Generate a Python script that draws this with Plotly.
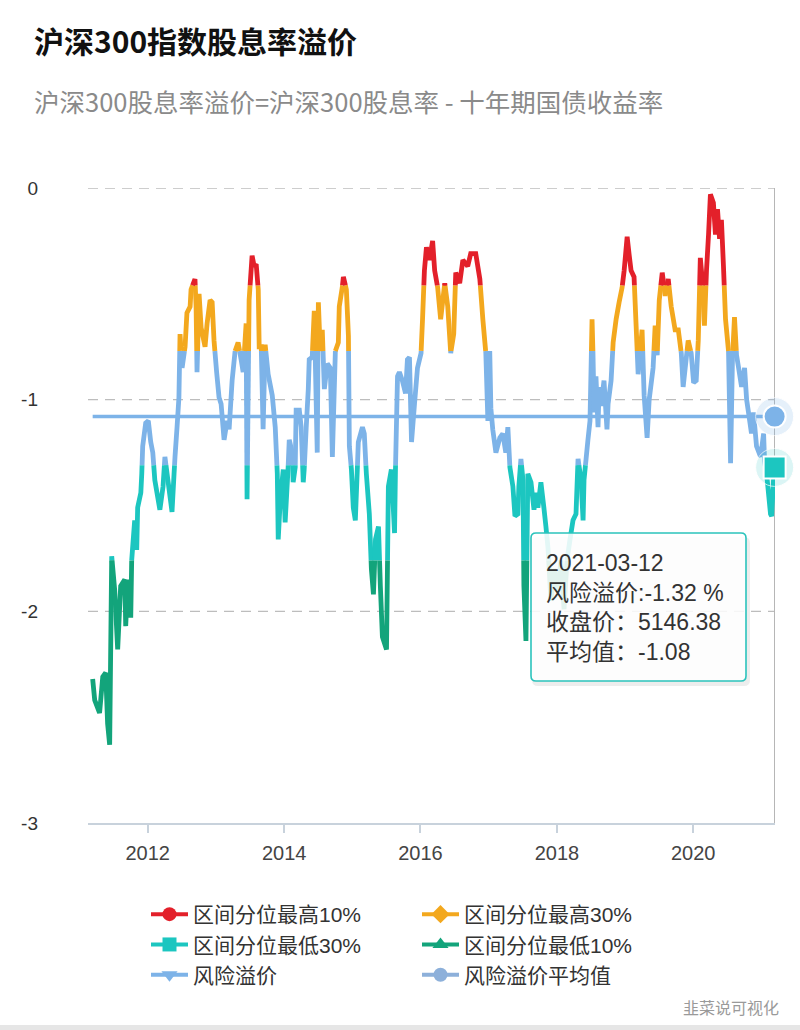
import plotly.graph_objects as go
import pandas as pd

# ---------------- data ----------------
TITLE = "沪深300指数股息率溢价"
SUBTITLE = "沪深300股息率溢价=沪深300股息率 - 十年期国债收益率"
WATERMARK = "韭菜说可视化"

dates = [
    "2011-03-12", "2011-03-23", "2011-04-18", "2011-05-05", "2011-05-21", "2011-05-31", "2011-06-11",
    "2011-06-22", "2011-07-08", "2011-07-24", "2011-08-09", "2011-08-31", "2011-09-05", "2011-09-16",
    "2011-10-02", "2011-10-07", "2011-10-23", "2011-11-03", "2011-11-08", "2011-11-25", "2011-11-30",
    "2011-12-05", "2011-12-21",
    "2012-01-04", "2012-01-17", "2012-01-28", "2012-02-08", "2012-03-06", "2012-03-23", "2012-04-02",
    "2012-04-18", "2012-05-10", "2012-05-21", "2012-05-26", "2012-06-06", "2012-06-16", "2012-06-22",
    "2012-07-03", "2012-07-19", "2012-07-29", "2012-08-15", "2012-08-20", "2012-09-10", "2012-09-16",
    "2012-09-21", "2012-10-02", "2012-10-13", "2012-11-03", "2012-11-14", "2012-11-30", "2012-12-11",
    "2012-12-21",
    "2013-01-04", "2013-01-17", "2013-01-28", "2013-02-13", "2013-03-01", "2013-03-12", "2013-03-28",
    "2013-04-13", "2013-04-29", "2013-05-15", "2013-05-26", "2013-06-11", "2013-06-16", "2013-06-27",
    "2013-07-13", "2013-07-24", "2013-08-04", "2013-08-15", "2013-08-20", "2013-08-31", "2013-09-10",
    "2013-09-21", "2013-10-07", "2013-10-29", "2013-11-14", "2013-11-25", "2013-11-30", "2013-12-11",
    "2013-12-27",
    "2014-01-06", "2014-01-22", "2014-01-28", "2014-02-13", "2014-02-18", "2014-03-01", "2014-03-06",
    "2014-03-23", "2014-04-02", "2014-04-13", "2014-04-18", "2014-04-29", "2014-05-10", "2014-05-15",
    "2014-05-31", "2014-06-11", "2014-06-27", "2014-07-03", "2014-07-13", "2014-07-24", "2014-08-04",
    "2014-08-20", "2014-09-05", "2014-09-16", "2014-10-02", "2014-10-18", "2014-10-23", "2014-11-08",
    "2014-11-14", "2014-11-30", "2014-12-11", "2014-12-16", "2014-12-27",
    "2015-01-06", "2015-01-17", "2015-01-28", "2015-02-02", "2015-02-24", "2015-03-06", "2015-03-17",
    "2015-04-02", "2015-04-13", "2015-04-24", "2015-05-05", "2015-05-21", "2015-05-31", "2015-06-11",
    "2015-07-03", "2015-07-13", "2015-07-29", "2015-08-15", "2015-08-20", "2015-08-31", "2015-09-10",
    "2015-09-26", "2015-10-13", "2015-10-23", "2015-11-03", "2015-11-14", "2015-11-30", "2015-12-16",
    "2016-01-04", "2016-01-12", "2016-01-22", "2016-02-02", "2016-02-18", "2016-03-06", "2016-03-17",
    "2016-04-02", "2016-04-18", "2016-05-10", "2016-05-26", "2016-06-11", "2016-06-27", "2016-07-08",
    "2016-07-29", "2016-08-15", "2016-09-10", "2016-09-26", "2016-10-23", "2016-11-14", "2016-11-30",
    "2016-12-16", "2016-12-27",
    "2017-01-06", "2017-01-12", "2017-01-22", "2017-02-08", "2017-03-01", "2017-03-17", "2017-04-02",
    "2017-04-13", "2017-04-24", "2017-05-10", "2017-05-21", "2017-06-06", "2017-06-11", "2017-06-22",
    "2017-07-03", "2017-07-08", "2017-07-19", "2017-07-29", "2017-08-15", "2017-08-31", "2017-09-10",
    "2017-09-21", "2017-10-07", "2017-10-23", "2017-11-03", "2017-11-14", "2017-11-30", "2017-12-16",
    "2018-01-06", "2018-01-22", "2018-02-08", "2018-02-24", "2018-03-12", "2018-03-28", "2018-04-13",
    "2018-04-24", "2018-05-10", "2018-05-21", "2018-05-26", "2018-06-06", "2018-06-16", "2018-06-27",
    "2018-07-08", "2018-07-13", "2018-07-19", "2018-07-29", "2018-08-09", "2018-08-15", "2018-08-25",
    "2018-09-10", "2018-09-26", "2018-10-02", "2018-10-18", "2018-10-29", "2018-11-14", "2018-11-30",
    "2018-12-16", "2018-12-27",
    "2019-01-12", "2019-01-22", "2019-02-02", "2019-02-18", "2019-03-01", "2019-03-12", "2019-04-02",
    "2019-04-13", "2019-04-29", "2019-05-10", "2019-05-31", "2019-06-11", "2019-06-22", "2019-07-03",
    "2019-07-19", "2019-08-04", "2019-08-20", "2019-09-05", "2019-09-26", "2019-10-13", "2019-10-29",
    "2019-11-08", "2019-11-19", "2019-12-05", "2019-12-21",
    "2020-01-03", "2020-01-17", "2020-01-28", "2020-02-08", "2020-02-18", "2020-03-01", "2020-03-12",
    "2020-03-23", "2020-04-02", "2020-04-18", "2020-04-29", "2020-05-10", "2020-05-21", "2020-05-31",
    "2020-06-11", "2020-06-22", "2020-07-08", "2020-07-19", "2020-07-29", "2020-08-09", "2020-08-20",
    "2020-08-31", "2020-09-16", "2020-10-02", "2020-10-13", "2020-10-23", "2020-11-08", "2020-11-19",
    "2020-12-05", "2020-12-27",
    "2021-01-12", "2021-01-17", "2021-01-28", "2021-02-18", "2021-02-24", "2021-03-06", "2021-03-12",
]

premium = [
    -2.32, -2.42, -2.48, -2.31, -2.29, -2.53, -2.63,
    -1.74, -1.90, -2.18, -1.88, -1.85, -2.07, -1.85,
    -2.03, -1.76, -1.57, -1.71, -1.51, -1.44, -1.35,
    -1.22, -1.11,
    -1.10, -1.20, -1.25, -1.38, -1.52, -1.41, -1.27,
    -1.38, -1.53, -1.35, -1.27, -1.13, -0.99, -0.69,
    -0.85, -0.75, -0.59, -0.56, -0.48, -0.43, -0.56,
    -0.87, -0.50, -0.66, -0.75, -0.64, -0.53, -0.54,
    -0.72,
    -0.87, -0.99, -1.02, -1.19, -1.10, -1.14, -0.91,
    -0.77, -0.73, -0.81, -0.87, -0.64, -1.47, -0.53,
    -0.32, -0.37, -0.36, -0.48, -0.75, -0.75, -1.14,
    -0.74, -0.88, -0.98, -1.13, -1.35, -1.66, -1.47,
    -1.33,
    -1.58, -1.32, -1.19, -1.25, -1.39, -1.32, -1.05,
    -1.05, -1.13, -1.39, -1.33, -1.13, -0.95, -0.81,
    -0.80, -0.58, -1.25, -0.54, -0.77, -0.67, -0.95,
    -0.83, -0.85, -1.27, -0.77, -0.73, -0.56, -0.47,
    -0.42, -0.48, -0.70, -1.22, -1.33,
    -1.51, -1.57, -1.32, -1.20, -1.13, -1.16, -1.35,
    -1.54, -1.80, -1.92, -1.66, -1.60, -1.88, -2.12,
    -2.18, -1.41, -1.33, -1.63, -1.33, -0.89, -0.87,
    -0.91, -0.97, -0.81, -0.80, -1.20, -1.02, -0.85,
    -0.78, -0.62, -0.39, -0.28, -0.34, -0.25, -0.39,
    -0.47, -0.62, -0.45, -0.56, -0.78, -0.69, -0.40,
    -0.45, -0.34, -0.37, -0.31, -0.31, -0.43, -0.62,
    -0.78, -1.10,
    -0.77, -1.04, -1.14, -1.25, -1.18, -1.16, -1.25,
    -1.13, -1.32, -1.41, -1.55, -1.54, -1.41, -1.28,
    -1.38, -1.88, -2.14, -1.35, -1.39, -1.52, -1.44,
    -1.51, -1.39, -1.51, -1.60, -1.70, -1.95, -1.80,
    -1.90, -1.76, -1.99, -1.76, -1.66, -1.57, -1.54,
    -1.28, -1.38, -1.57, -1.38, -1.28, -1.19, -1.10,
    -0.62, -0.78, -1.06, -0.89, -1.13, -0.94, -1.03,
    -0.91, -1.14, -1.02, -0.91, -0.73, -0.62, -0.54,
    -0.47, -0.39,
    -0.23, -0.31, -0.39, -0.42, -0.65, -0.88, -0.67,
    -0.98, -1.18, -1.00, -0.85, -0.65, -0.79, -0.53,
    -0.40, -0.51, -0.43, -0.56, -0.67, -0.67, -0.78,
    -0.94, -0.85, -0.72, -0.78,
    -0.92, -0.91, -0.72, -0.33, -0.43, -0.65, -0.39,
    -0.22, -0.03, -0.07, -0.22, -0.10, -0.24, -0.15,
    -0.37, -0.62, -0.77, -1.30, -0.81, -0.61, -0.79,
    -0.85, -0.94, -0.85, -1.00, -1.06, -1.16, -1.06,
    -1.22, -1.27,
    -1.16, -1.29, -1.35, -1.54, -1.55, -1.38, -1.32,
]

MEAN_PREMIUM = -1.08
TIP_DATE = "2021-03-12"
TIP_PREMIUM = -1.32
TIP_CLOSE = 5146.38

# band edges (percentile thresholds of the premium) and band names, low -> high
BAND_EDGES = [-1.76, -1.31, -0.77, -0.46]
BAND_NAMES = ["区间分位最低10%", "区间分位最低30%", "风险溢价", "区间分位最高30%", "区间分位最高10%"]
MEAN_NAME = "风险溢价平均值"

Y_TICKS = [0, -1, -2, -3]
X_TICKS = ["2012-01-01", "2014-01-01", "2016-01-01", "2018-01-01", "2020-01-01"]
X_TICK_LABELS = ["2012", "2014", "2016", "2018", "2020"]

# ---------------- styles ----------------
BAND_COLORS = ["#13A47B", "#1CC6C0", "#7DB3E8", "#F3A81E", "#E3202A"]
BAND_SYMBOLS = ["triangle-up", "square", "triangle-down", "diamond", "circle"]
MEAN_COLOR = "#7DB3E8"
MEAN_LEGEND_COLOR = "#8DB0DA"
FONT = "Noto Sans CJK SC, Noto Sans, sans-serif"
FONT_MIX = "Liberation Sans, Noto Sans CJK SC, sans-serif"

W, H = 800, 1030
L, R, T, B = 88, 25, 188, 207
PW, PH = W - L - R, H - T - B


def px(x):
    return (x - L) / PW


def py(y):
    return (H - B - y) / PH


# ---------------- split series into value bands ----------------
ts = pd.to_datetime(dates)


def band_of(v):
    for i, e in enumerate(BAND_EDGES):
        if v < e:
            return i
    return len(BAND_EDGES)


seg = {i: ([], []) for i in range(len(BAND_NAMES))}
for i in range(len(premium) - 1):
    t0, t1 = ts[i], ts[i + 1]
    v0, v1 = premium[i], premium[i + 1]
    cuts = [0.0, 1.0]
    lo, hi = min(v0, v1), max(v0, v1)
    for e in BAND_EDGES:
        if lo < e < hi:
            cuts.append((e - v0) / (v1 - v0))
    cuts.sort()
    for a, b in zip(cuts[:-1], cuts[1:]):
        va, vb = v0 + (v1 - v0) * a, v0 + (v1 - v0) * b
        k = band_of((va + vb) / 2)
        xa = (t0 + (t1 - t0) * a).strftime("%Y-%m-%d %H:%M:%S")
        xb = (t0 + (t1 - t0) * b).strftime("%Y-%m-%d %H:%M:%S")
        xs, ys = seg[k]
        if not (xs and xs[-1] == xa and abs(ys[-1] - va) < 1e-9):
            if xs:
                xs.append(None)
                ys.append(None)
            xs.append(xa)
            ys.append(va)
        xs.append(xb)
        ys.append(vb)

fig = go.Figure()

# mean line
fig.add_trace(go.Scatter(
    x=[dates[0], dates[-1]], y=[MEAN_PREMIUM, MEAN_PREMIUM], mode="lines",
    line=dict(color=MEAN_COLOR, width=3.5), showlegend=False, hoverinfo="skip"))

draw_order = [2, 3, 4, 1, 0]
for k in draw_order:
    xs, ys = seg[k]
    fig.add_trace(go.Scatter(
        x=xs, y=ys, mode="lines", connectgaps=False,
        line=dict(color=BAND_COLORS[k], width=4.8, shape="linear", simplify=False),
        showlegend=False, hoverinfo="skip"))

# legend entries
legend_order = [4, 3, 1, 0, 2]
for k in legend_order:
    fig.add_trace(go.Scatter(
        x=[None], y=[None], mode="lines+markers", name=BAND_NAMES[k],
        line=dict(color=BAND_COLORS[k], width=4),
        marker=dict(symbol=BAND_SYMBOLS[k], size=14, color=BAND_COLORS[k])))
fig.add_trace(go.Scatter(
    x=[None], y=[None], mode="lines+markers", name=MEAN_NAME,
    line=dict(color=MEAN_LEGEND_COLOR, width=4),
    marker=dict(symbol="circle", size=14, color=MEAN_LEGEND_COLOR)))

# hover highlight markers at the last date
last_band = band_of(TIP_PREMIUM)
fig.add_trace(go.Scatter(
    x=[TIP_DATE, TIP_DATE], y=[MEAN_PREMIUM, TIP_PREMIUM], mode="markers",
    marker=dict(symbol="circle", size=[38, 38],
                color=["rgba(125,179,232,0.28)", "rgba(29,197,191,0.22)"]),
    showlegend=False, hoverinfo="skip", cliponaxis=False))
fig.add_trace(go.Scatter(
    x=[TIP_DATE], y=[MEAN_PREMIUM], mode="markers",
    marker=dict(symbol="circle", size=22, color=MEAN_COLOR, line=dict(color="white", width=2)),
    showlegend=False, hoverinfo="skip", cliponaxis=False))
fig.add_trace(go.Scatter(
    x=[TIP_DATE], y=[TIP_PREMIUM], mode="markers",
    marker=dict(symbol="square", size=22, color=BAND_COLORS[last_band], line=dict(color="white", width=2)),
    showlegend=False, hoverinfo="skip", cliponaxis=False))


# tooltip box (rounded rectangle, paper coords)
def rounded(x0, y0, x1, y1, r=5):
    X0, X1, Y0, Y1 = px(x0), px(x1), py(y1), py(y0)
    rx, ry = r / PW, r / PH
    return (f"M{X0+rx},{Y0} L{X1-rx},{Y0} Q{X1},{Y0} {X1},{Y0+ry} L{X1},{Y1-ry} Q{X1},{Y1} {X1-rx},{Y1} "
            f"L{X0+rx},{Y1} Q{X0},{Y1} {X0},{Y1-ry} L{X0},{Y0+ry} Q{X0},{Y0} {X0+rx},{Y0} Z")


shapes = []
# dashed horizontal grid lines (axis line covers the bottom one)
for v in Y_TICKS[:-1]:
    shapes.append(dict(type="line", xref="paper", yref="y", x0=0, x1=1, y0=v, y1=v,
                       line=dict(color="#bdbdbd", width=1.3, dash="10px,7px"), layer="below"))
shapes += [
    dict(type="line", xref="x", yref="paper", x0=TIP_DATE, x1=TIP_DATE, y0=0, y1=1,
         line=dict(color="#b4b4b4", width=1.2), layer="below"),
    dict(type="path", xref="paper", yref="paper", path=rounded(532, 537, 750, 686, 6),
         fillcolor="rgba(0,0,0,0.07)", line=dict(width=0), layer="above"),
    dict(type="path", xref="paper", yref="paper", path=rounded(531, 533, 746, 681, 5),
         fillcolor="rgba(255,255,255,0.88)", line=dict(color="#2BC3BC", width=1.6), layer="above"),
    dict(type="rect", xref="paper", yref="paper", x0=px(0), x1=px(W), y0=py(1030), y1=py(1025),
         fillcolor="#e6e6e6", line=dict(width=0), layer="above"),
]

tip_lines = [
    TIP_DATE,
    f"风险溢价:{TIP_PREMIUM:.2f} %",
    f"收盘价：{TIP_CLOSE:.2f}",
    f"平均值：{MEAN_PREMIUM:.2f}",
]
tip_y = [563, 593, 622, 652]

annotations = [
    dict(text=f"<b>{TITLE}</b>", xref="paper", yref="paper", x=px(32), y=py(40),
         xanchor="left", yanchor="middle", showarrow=False,
         font=dict(family=FONT, size=30, color="#111111")),
    dict(text=SUBTITLE, xref="paper", yref="paper", x=px(32), y=py(101),
         xanchor="left", yanchor="middle", showarrow=False,
         font=dict(family=FONT, size=25.5, color="#8a8a8a")),
    dict(text=WATERMARK, xref="paper", yref="paper", x=px(781), y=py(1007),
         xanchor="right", yanchor="middle", showarrow=False,
         font=dict(family=FONT, size=16, color="#9a9a9a")),
]
for t, y in zip(tip_lines, tip_y):
    annotations.append(dict(text=t, xref="paper", yref="paper", x=px(544), y=py(y),
                            xanchor="left", yanchor="middle", showarrow=False,
                            font=dict(family=FONT_MIX, size=23, color="#333333")))

fig.update_layout(
    width=W, height=H, autosize=False,
    margin=dict(l=L, r=R, t=T, b=B, pad=0),
    paper_bgcolor="white", plot_bgcolor="white",
    font=dict(family=FONT, color="#444"),
    hovermode=False,
    shapes=shapes, annotations=annotations,
    showlegend=True,
    legend=dict(orientation="h", x=px(146), xanchor="left", y=py(894), yanchor="top",
                entrywidth=219, itemwidth=37, font=dict(family=FONT_MIX, size=21, color="#333"),
                tracegroupgap=0, bgcolor="rgba(0,0,0,0)"),
    xaxis=dict(type="date", range=["2011-02-15", "2021-03-14"],
               tickmode="array", tickvals=X_TICKS, ticktext=X_TICK_LABELS,
               showgrid=False, zeroline=False, showline=True, linecolor="#c8d2dc", linewidth=1.5,
               ticks="outside", ticklen=8, tickwidth=1.5, tickcolor="#c8d2dc",
               ticklabelstandoff=3,
               tickfont=dict(family=FONT_MIX, size=20, color="#444")),
    yaxis=dict(range=[-3, 0], tickmode="array", tickvals=Y_TICKS, ticktext=[str(v) for v in Y_TICKS],
               showgrid=False, zeroline=False, showline=False, ticks="",
               ticklabelstandoff=49,
               tickfont=dict(family=FONT_MIX, size=19, color="#333")),
)

fig.write_html("out.html", config={"displayModeBar": False},
               post_script="document.body.style.margin='0px';")
